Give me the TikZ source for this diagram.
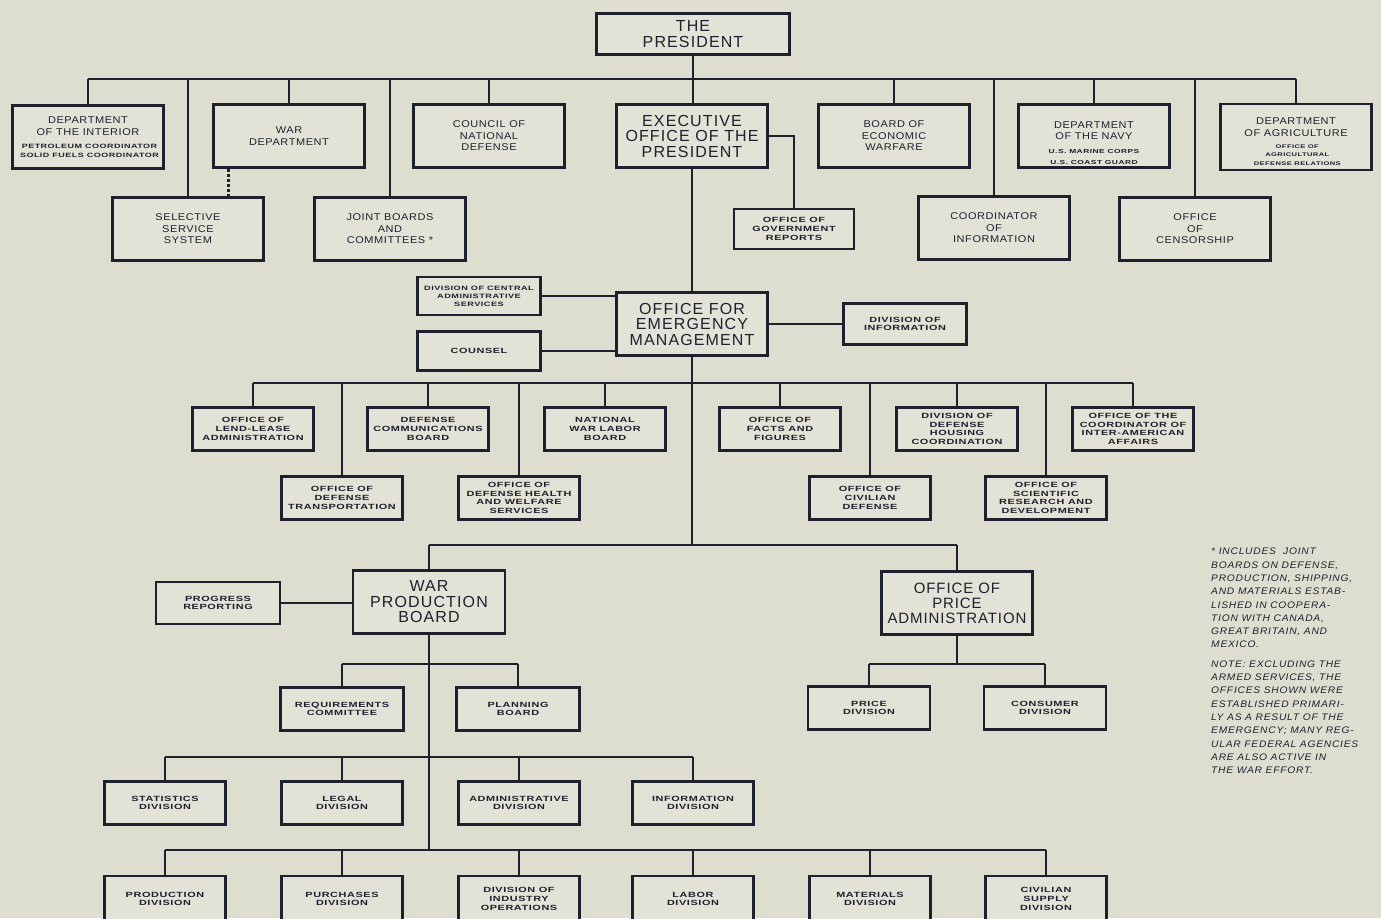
\documentclass[tikz,border=0pt]{standalone}
\usepackage{fontspec}
\setmainfont{Liberation Sans}
\newfontfamily\headface[LetterSpace=7]{Liberation Sans}
\newfontfamily\letterface[FakeStretch=1.12,LetterSpace=6]{Liberation Sans}
\newfontfamily\unitface[FakeStretch=1.45,LetterSpace=8]{Liberation Sans}
\newfontfamily\noteface[FakeStretch=1.08,LetterSpace=8]{Liberation Sans}
\usepackage{xcolor}
\usepackage{tikz}

\definecolor{paper}{RGB}{221,222,208}
\definecolor{card}{RGB}{226,226,214}
\definecolor{ink}{RGB}{30,32,46}

\newcommand{\headsize}{\headface\fontsize{16}{15.5}\selectfont}
\newcommand{\midsize}{\letterface\fontsize{9.8}{11.5}\selectfont}
\newcommand{\unitsize}{\unitface\bfseries\fontsize{7.5}{8.8}\selectfont}
\newcommand{\finesize}[1][5.8]{\unitface\bfseries\fontsize{#1}{8.5}\selectfont}
\newcommand{\notesize}{\noteface\itshape\fontsize{9.5}{13.3}\selectfont}

\tikzset{
  box/.style={draw=ink, line width=2.7pt, fill=card, text=ink, align=center, inner sep=1pt},
  headbox/.style={box, minimum width=151pt, minimum height=63pt, font=\headsize},
  deptbox/.style={box, minimum width=151pt, minimum height=63pt, font=\midsize},
  unitbox/.style={box, minimum width=121pt, minimum height=43pt, font=\unitsize},
  link/.style={draw=ink, line width=2pt},
}

\begin{document}
\begin{tikzpicture}[x=1pt, y=-1pt]
  \useasboundingbox (0,0) rectangle (1381,918);
  \fill[paper] (0,0) rectangle (1381,918);

  % Draw the president and the first line of offices
  \node[headbox, minimum width=193pt, minimum height=41pt] (pres) at (693,34) {THE\\PRESIDENT};
  \node[deptbox] (interior) at (88,137) {DEPARTMENT\\[0.5pt]OF THE INTERIOR\\[1.5pt]\finesize[6.2] PETROLEUM COORDINATOR\\[-2.5pt]\finesize[6.2] SOLID FUELS COORDINATOR};
  \node[deptbox] (wardept) at (289,136) {WAR\\DEPARTMENT};
  \node[deptbox] (council) at (489,136) {COUNCIL OF\\NATIONAL\\DEFENSE};
  \node[headbox] (exec) at (692,136) {EXECUTIVE\\OFFICE OF THE\\PRESIDENT};
  \node[deptbox] (bew) at (894,136) {BOARD OF\\ECONOMIC\\WARFARE};
  \node[deptbox] (navy) at (1094,136) {\rule{0pt}{21pt}DEPARTMENT\\[-0.5pt]OF THE NAVY\\[2.5pt]\finesize U.S. MARINE CORPS\\[-0.5pt]\finesize U.S. COAST GUARD};
  \node[deptbox, minimum height=66pt] (agri) at (1296,137) {\rule{0pt}{17pt}DEPARTMENT\\[0.5pt]OF AGRICULTURE\\[0.5pt]\finesize[5.2] OFFICE OF\\[-3.5pt]\finesize[5.2] AGRICULTURAL\\[-2.5pt]\finesize[5.2] DEFENSE RELATIONS};

  % Draw the second line
  \node[deptbox] (sss) at (188,229) {SELECTIVE\\SERVICE\\SYSTEM};
  \node[deptbox] (joint) at (390,229) {JOINT BOARDS\\AND\\COMMITTEES\ *};
  \node[unitbox, minimum width=120pt, minimum height=40pt] (ogr) at (794,229) {OFFICE OF\\GOVERNMENT\\REPORTS};
  \node[deptbox] (coi) at (994,228) {COORDINATOR\\OF\\INFORMATION};
  \node[deptbox] (censor) at (1195,229) {OFFICE\\OF\\CENSORSHIP};

  % Draw the office for emergency management
  \node[headbox] (oem) at (692,324) {OFFICE FOR\\EMERGENCY\\MANAGEMENT};
  \node[unitbox, minimum width=123pt, minimum height=38pt, font=\unitface\bfseries\fontsize{6.3}{8}\selectfont] (dcas) at (479,296) {DIVISION OF CENTRAL\\ADMINISTRATIVE\\SERVICES};
  \node[unitbox, minimum width=123pt, minimum height=39pt] (counsel) at (479,351) {COUNSEL};
  \node[unitbox, minimum width=123pt, minimum height=41pt] (divinfo) at (905,324) {DIVISION OF\\INFORMATION};

  % Draw the emergency offices
  \node[unitbox] (lendlease) at (253,429) {OFFICE OF\\LEND-LEASE\\ADMINISTRATION};
  \node[unitbox] (dcb) at (428,429) {DEFENSE\\COMMUNICATIONS\\BOARD};
  \node[unitbox] (nwlb) at (605,429) {NATIONAL\\WAR LABOR\\BOARD};
  \node[unitbox] (facts) at (780,429) {OFFICE OF\\FACTS AND\\FIGURES};
  \node[unitbox] (ddhc) at (957,429) {DIVISION OF\\DEFENSE\\HOUSING\\COORDINATION};
  \node[unitbox] (iaa) at (1133,429) {OFFICE OF THE\\COORDINATOR OF\\INTER-AMERICAN\\AFFAIRS};
  \node[unitbox] (odt) at (342,498) {OFFICE OF\\DEFENSE\\TRANSPORTATION};
  \node[unitbox] (odhws) at (519,498) {OFFICE OF\\DEFENSE HEALTH\\AND WELFARE\\SERVICES};
  \node[unitbox] (ocd) at (870,498) {OFFICE OF\\CIVILIAN\\DEFENSE};
  \node[unitbox] (osrd) at (1046,498) {OFFICE OF\\SCIENTIFIC\\RESEARCH AND\\DEVELOPMENT};

  % Draw war production and price administration
  \node[headbox, minimum width=152pt] (wpb) at (429,602) {WAR\\PRODUCTION\\BOARD};
  \node[headbox, font=\headface\addfontfeature{LetterSpace=6}\fontsize{15}{15}\selectfont] (opa) at (957,603) {OFFICE OF\\PRICE\\ADMINISTRATION};
  \node[unitbox, minimum width=124pt, minimum height=42pt] (progress) at (218,603) {PROGRESS\\REPORTING};
  \node[unitbox, minimum width=123pt] (req) at (342,709) {REQUIREMENTS\\COMMITTEE};
  \node[unitbox, minimum width=123pt] (plan) at (518,709) {PLANNING\\BOARD};
  \node[unitbox, minimum width=122pt] (price) at (869,708) {PRICE\\DIVISION};
  \node[unitbox, minimum width=122pt] (consumer) at (1045,708) {CONSUMER\\DIVISION};

  % Draw the divisions of the board
  \node[unitbox] (stats) at (165,803) {STATISTICS\\DIVISION};
  \node[unitbox] (legal) at (342,803) {LEGAL\\DIVISION};
  \node[unitbox] (admin) at (519,803) {ADMINISTRATIVE\\DIVISION};
  \node[unitbox] (infodiv) at (693,803) {INFORMATION\\DIVISION};
  \node[unitbox, minimum height=46pt] (prod) at (165,899) {PRODUCTION\\DIVISION};
  \node[unitbox, minimum height=46pt] (purch) at (342,899) {PURCHASES\\DIVISION};
  \node[unitbox, minimum height=46pt] (dio) at (519,899) {DIVISION OF\\INDUSTRY\\OPERATIONS};
  \node[unitbox, minimum height=46pt] (labor) at (693,899) {LABOR\\DIVISION};
  \node[unitbox, minimum height=46pt] (materials) at (870,899) {MATERIALS\\DIVISION};
  \node[unitbox, minimum height=46pt] (civsupply) at (1046,899) {CIVILIAN\\SUPPLY\\DIVISION};

  % Draw the bus lines
  \coordinate (topbus) at (0,79);
  \coordinate (oembus) at (0,383);
  \coordinate (prodbus) at (0,545);
  \coordinate (wpbbus) at (0,664);
  \coordinate (divbus) at (0,757);
  \coordinate (lowbus) at (0,850);

  % Draw connectors from the president
  \draw[link] (pres.south) -- (pres.south |- exec.north);
  \draw[link] (interior.north |- topbus) -- (agri.north |- topbus);
  \draw[link] (interior.north) -- (interior.north |- topbus)
    (wardept.north) -- (wardept.north |- topbus)
    (council.north) -- (council.north |- topbus)
    (bew.north) -- (bew.north |- topbus)
    (navy.north) -- (navy.north |- topbus)
    (agri.north) -- (agri.north |- topbus)
    (sss.north) -- (sss.north |- topbus)
    (joint.north) -- (joint.north |- topbus)
    (coi.north) -- (coi.north |- topbus)
    (censor.north) -- (censor.north |- topbus);
  \draw[ink, line width=3pt, dash pattern=on 3pt off 2pt] ([xshift=-61pt]wardept.south) -- ([xshift=-61pt]wardept.south |- sss.north);
  \draw[link] (exec.east) -| (ogr.north);
  \draw[link] (exec.south) -- (exec.south |- oem.north);

  % Draw connectors of the emergency offices
  \draw[link] (dcas.east) -- (dcas.east -| oem.west)
    (counsel.east) -- (counsel.east -| oem.west)
    (oem.east) -- (divinfo.west);
  \draw[link] (oem.south) -- (oem.south |- prodbus);
  \draw[link] (lendlease.north |- oembus) -- (iaa.north |- oembus);
  \draw[link] (lendlease.north) -- (lendlease.north |- oembus)
    (dcb.north) -- (dcb.north |- oembus)
    (nwlb.north) -- (nwlb.north |- oembus)
    (facts.north) -- (facts.north |- oembus)
    (ddhc.north) -- (ddhc.north |- oembus)
    (iaa.north) -- (iaa.north |- oembus)
    (odt.north) -- (odt.north |- oembus)
    (odhws.north) -- (odhws.north |- oembus)
    (ocd.north) -- (ocd.north |- oembus)
    (osrd.north) -- (osrd.north |- oembus);

  % Draw connectors of the board and the price office
  \draw[link] (wpb.north |- prodbus) -- (opa.north |- prodbus);
  \draw[link] (wpb.north) -- (wpb.north |- prodbus)
    (opa.north) -- (opa.north |- prodbus);
  \draw[link] (progress.east) -- (progress.east -| wpb.west);
  \draw[link] (wpb.south) -- (wpb.south |- lowbus);
  \draw[link] (req.north |- wpbbus) -- (plan.north |- wpbbus)
    (req.north) -- (req.north |- wpbbus)
    (plan.north) -- (plan.north |- wpbbus);
  \draw[link] (opa.south) -- (opa.south |- wpbbus)
    (price.north |- wpbbus) -- (consumer.north |- wpbbus)
    (price.north) -- (price.north |- wpbbus)
    (consumer.north) -- (consumer.north |- wpbbus);
  \draw[link] (stats.north |- divbus) -- (infodiv.north |- divbus)
    (stats.north) -- (stats.north |- divbus)
    (legal.north) -- (legal.north |- divbus)
    (admin.north) -- (admin.north |- divbus)
    (infodiv.north) -- (infodiv.north |- divbus);
  \draw[link] (prod.north |- lowbus) -- (civsupply.north |- lowbus)
    (prod.north) -- (prod.north |- lowbus)
    (purch.north) -- (purch.north |- lowbus)
    (dio.north) -- (dio.north |- lowbus)
    (labor.north) -- (labor.north |- lowbus)
    (materials.north) -- (materials.north |- lowbus)
    (civsupply.north) -- (civsupply.north |- lowbus);

  % Draw the footnote
  \node[anchor=north west, align=left, font=\notesize, text=ink, inner sep=0pt] (note) at (1211,548)
    {*\ INCLUDES\ \ JOINT\\BOARDS ON DEFENSE,\\PRODUCTION, SHIPPING,\\AND MATERIALS ESTAB-\\LISHED IN COOPERA-\\TION WITH CANADA,\\GREAT BRITAIN, AND\\MEXICO.\\[6pt]NOTE: EXCLUDING THE\\ARMED SERVICES, THE\\OFFICES SHOWN WERE\\ESTABLISHED PRIMARI-\\LY AS A RESULT OF THE\\EMERGENCY; MANY REG-\\ULAR FEDERAL AGENCIES\\ARE ALSO ACTIVE IN\\THE WAR EFFORT.};
\end{tikzpicture}
\end{document}
